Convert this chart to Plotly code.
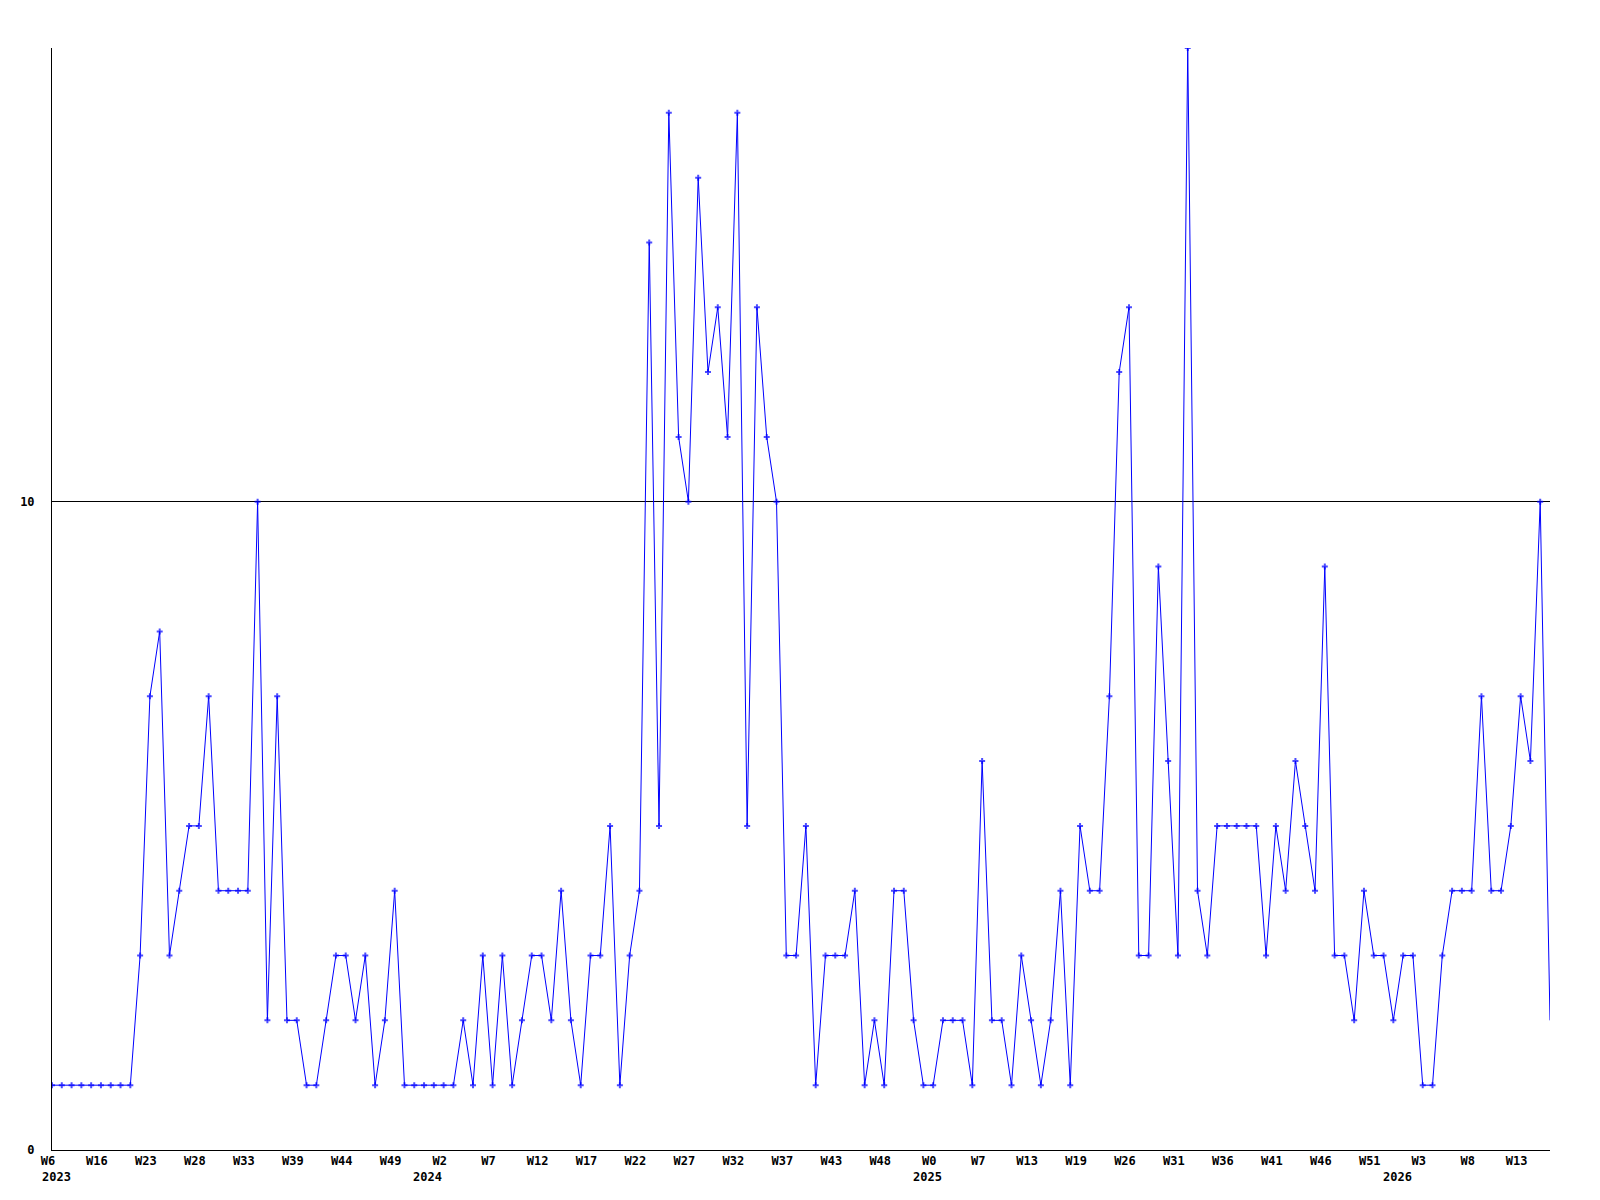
import plotly.graph_objects as go

# Weekly values (one per week, in chronological order)
values = [
    1, 1, 1, 1, 1, 1, 1, 1, 1,
    3, 7, 8, 3, 4, 5, 5, 7, 4, 4, 4, 4, 10, 2, 7, 2, 2, 1, 1, 2, 3, 3, 2, 3, 1, 2, 4,
    1, 1, 1, 1, 1, 1,
    2, 1, 3, 1, 3, 1, 2, 3, 3, 2, 4, 2, 1, 3, 3, 5, 1, 3, 4,
    14, 5, 16, 11, 10, 15, 12, 13, 11, 16, 5, 13, 11, 10,
    3, 3, 5, 1, 3, 3, 3, 4, 1, 2, 1, 4, 4, 2, 1, 1, 2, 2, 2, 1, 6, 2, 2, 1, 3, 2, 1, 2, 4, 1, 5, 4, 4,
    7, 12, 13, 3, 3, 9, 6, 3, 17, 4, 3,
    5, 5, 5, 5, 5, 3, 5, 4, 6, 5, 4, 9, 3, 3, 2, 4, 3, 3, 2, 3, 3, 1, 1, 3, 4, 4, 4, 7, 4, 4, 5, 7, 6, 10, 2,
]

# Tick labels shown every 5th week
week_labels = ["W6", "W16", "W23", "W28", "W33", "W39", "W44", "W49", "W2", "W7",
               "W12", "W17", "W22", "W27", "W32", "W37", "W43", "W48", "W0", "W7",
               "W13", "W19", "W26", "W31", "W36", "W41", "W46", "W51", "W3", "W8", "W13"]
label_step = 5

# Year labels and the week index where each year starts
years = ["2023", "2024", "2025", "2026"]
year_start_index = [0, 39, 90, 138]

y_tick_values = [0, 10]

n = len(values)
x = list(range(n))
tickvals = [i * label_step for i in range(len(week_labels))]

marker_sizes = [5] * (n - 1) + [0]

fig = go.Figure()
fig.add_trace(go.Scatter(
    x=x, y=values, mode="lines+markers",
    line=dict(color="#0000FF", width=1),
    marker=dict(symbol="cross", size=marker_sizes, color="#0000FF",
                line=dict(width=0)),
    hoverinfo="x+y", showlegend=False,
))

font_family = "DejaVu Sans Mono"
label_font = dict(family=font_family, size=12, color="black", weight="bold")

annotations = []
for i, (yr, pos) in enumerate(zip(years, year_start_index)):
    if i == 0:
        annotations.append(dict(x=pos, y=0, xref="x", yref="paper", text=yr,
                                showarrow=False, xanchor="left", yanchor="top",
                                xshift=-12, yshift=-18, font=label_font))
    else:
        annotations.append(dict(x=pos, y=0, xref="x", yref="paper", text=yr,
                                showarrow=False, xanchor="center", yanchor="top",
                                xshift=-6, yshift=-18, font=label_font))

# The page body adds an 8px margin, so the figure is sized/offset to compensate
fig.update_layout(
    width=1584, height=1184,
    margin=dict(l=42, r=42, t=40, b=42, pad=0),
    paper_bgcolor="white", plot_bgcolor="white",
    annotations=annotations,
    xaxis=dict(
        range=[0, n - 1], tickmode="array", tickvals=tickvals, ticktext=week_labels,
        showgrid=False, zeroline=False, showline=True, linecolor="black", linewidth=1,
        ticks="", tickangle=0, tickfont=label_font, ticklabelshift=-4,
    ),
    yaxis=dict(
        range=[0, 17], tickmode="array", tickvals=y_tick_values,
        showgrid=True, gridcolor="black", gridwidth=1,
        zeroline=False, showline=True, linecolor="black", linewidth=1,
        ticks="", ticklabelstandoff=14, tickfont=label_font,
    ),
)

fig.write_html("out.html")
